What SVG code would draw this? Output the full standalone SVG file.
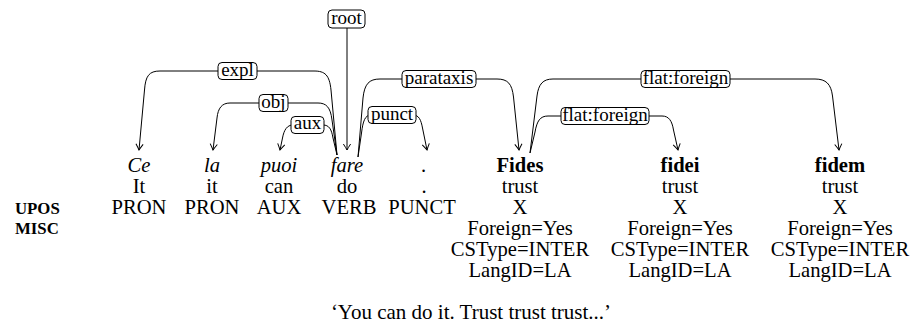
<svg xmlns="http://www.w3.org/2000/svg" width="912" height="330" viewBox="0 0 912 330" font-family="Liberation Serif, DejaVu Serif, serif">
<style>
text{font-family:'Liberation Serif','DejaVu Serif',serif;fill:#000}
.w{font-size:20.6px;text-anchor:middle}
.tr{font-size:21px;text-anchor:middle}
.it{font-style:italic}
.b{font-weight:bold}
.hdr{font-size:16.8px;font-weight:bold}
.arc{fill:none;stroke:#000;stroke-width:1;marker-end:url(#ah)}
.lb rect{fill:#fff;stroke:#000;stroke-width:1}
.lb text{font-size:19px;text-anchor:middle}
</style>
<defs>
<marker id="ah" markerUnits="userSpaceOnUse" markerWidth="12" markerHeight="12" viewBox="-8 -6 10 12" refX="0" refY="0" orient="auto" overflow="visible">
<path d="M -6 -3.6 Q -2 -1 0 0 Q -2 1 -6 3.6" fill="none" stroke="#000" stroke-width="1"/>
</marker>
</defs>
<rect width="912" height="330" fill="#fff"/>
<g id="headers">
<text class="hdr" x="15" y="214">UPOS</text>
<text class="hdr" x="15" y="233.5">MISC</text>
</g>
<g id="tok-ce">
<text class="w it" x="139" y="172">Ce</text>
<text class="w" x="139" y="193">It</text>
<text class="w" x="139" y="214">PRON</text>
</g>
<g id="tok-la">
<text class="w it" x="212" y="172">la</text>
<text class="w" x="212" y="193">it</text>
<text class="w" x="212" y="214">PRON</text>
</g>
<g id="tok-puoi">
<text class="w it" x="279" y="172">puoi</text>
<text class="w" x="279" y="193">can</text>
<text class="w" x="279" y="214">AUX</text>
</g>
<g id="tok-fare">
<text class="w it" x="347" y="172">fare</text>
<text class="w" x="347" y="193">do</text>
<text class="w" x="349" y="214">VERB</text>
</g>
<g id="tok-punct">
<text class="w it" x="424" y="172">.</text>
<text class="w" x="424" y="193">.</text>
<text class="w" x="422" y="214">PUNCT</text>
</g>
<g id="tok-fides">
<text class="w b" x="520" y="172">Fides</text>
<text class="w" x="520" y="193">trust</text>
<text class="w" x="520" y="214">X</text>
<text class="w" x="520" y="235">Foreign=Yes</text>
<text class="w" x="520" y="256">CSType=INTER</text>
<text class="w" x="520" y="277">LangID=LA</text>
</g>
<g id="tok-fidei">
<text class="w b" x="680" y="172">fidei</text>
<text class="w" x="680" y="193">trust</text>
<text class="w" x="680" y="214">X</text>
<text class="w" x="680" y="235">Foreign=Yes</text>
<text class="w" x="680" y="256">CSType=INTER</text>
<text class="w" x="680" y="277">LangID=LA</text>
</g>
<g id="tok-fidem">
<text class="w b" x="840" y="172">fidem</text>
<text class="w" x="840" y="193">trust</text>
<text class="w" x="840" y="214">X</text>
<text class="w" x="840" y="235">Foreign=Yes</text>
<text class="w" x="840" y="256">CSType=INTER</text>
<text class="w" x="840" y="277">LangID=LA</text>
</g>
<g id="connectors">
<path class="arc" d="M 347 28 L 347 150" stroke="#444"/>
<path class="arc" d="M 337 155 L 331 90 C 329.5 75 325 71 314 71 L 160 71 C 149 71 145.5 76 144.5 90 L 139 150"/>
<path class="arc" d="M 337 155 L 332 120 C 330.5 107 326 103 318 103 L 230 103 C 222 103 218 108 217 118 L 213 150"/>
<path class="arc" d="M 337 155 L 333 138 C 331.5 129 329 125 323 125 L 293 125 C 287 125 284 130 282.5 138 L 280 150"/>
<path class="arc" d="M 358 157 L 363 98 C 364.5 84 369 79 380 79 L 497 79 C 508 79 512 84 513.5 97 L 519 150"/>
<path class="arc" d="M 358 157 L 361.5 133 C 363 121 365 115 371 115 L 413 115 C 419 115 421 120 422.5 128 L 427 150"/>
<path class="arc" d="M 530 153 L 537 96 C 538.5 84 543 79 553 79 L 815 79 C 826 79 831 84 832.5 96 L 839 150"/>
<path class="arc" d="M 530 153 L 535 132 C 537 121 540 116 548 116 L 662 116 C 669 116 672 121 673.5 130 L 678 150"/>
<g class="lb"><rect x="328" y="10" width="37" height="18" rx="4"/><text x="346.5" y="24">root</text></g>
<g class="lb"><rect x="218" y="62.5" width="39" height="17" rx="4"/><text x="237.5" y="75.5">expl</text></g>
<g class="lb"><rect x="259" y="94.5" width="29" height="17" rx="4"/><text x="273.5" y="107.5">obj</text></g>
<g class="lb"><rect x="291" y="116.5" width="33" height="17" rx="4"/><text x="307.5" y="129">aux</text></g>
<g class="lb"><rect x="402" y="70.5" width="74" height="17" rx="4"/><text x="439" y="83.5">parataxis</text></g>
<g class="lb"><rect x="368" y="106.5" width="48" height="17" rx="4"/><text x="392" y="119.5">punct</text></g>
<g class="lb"><rect x="641" y="70.5" width="89" height="17" rx="4"/><text x="685.5" y="83.5">flat:foreign</text></g>
<g class="lb"><rect x="561" y="107.5" width="88" height="17" rx="4"/><text x="605" y="120.5">flat:foreign</text></g>
</g>
<text class="tr" x="471" y="319">‘You can do it. Trust trust trust...’</text>
</svg>
